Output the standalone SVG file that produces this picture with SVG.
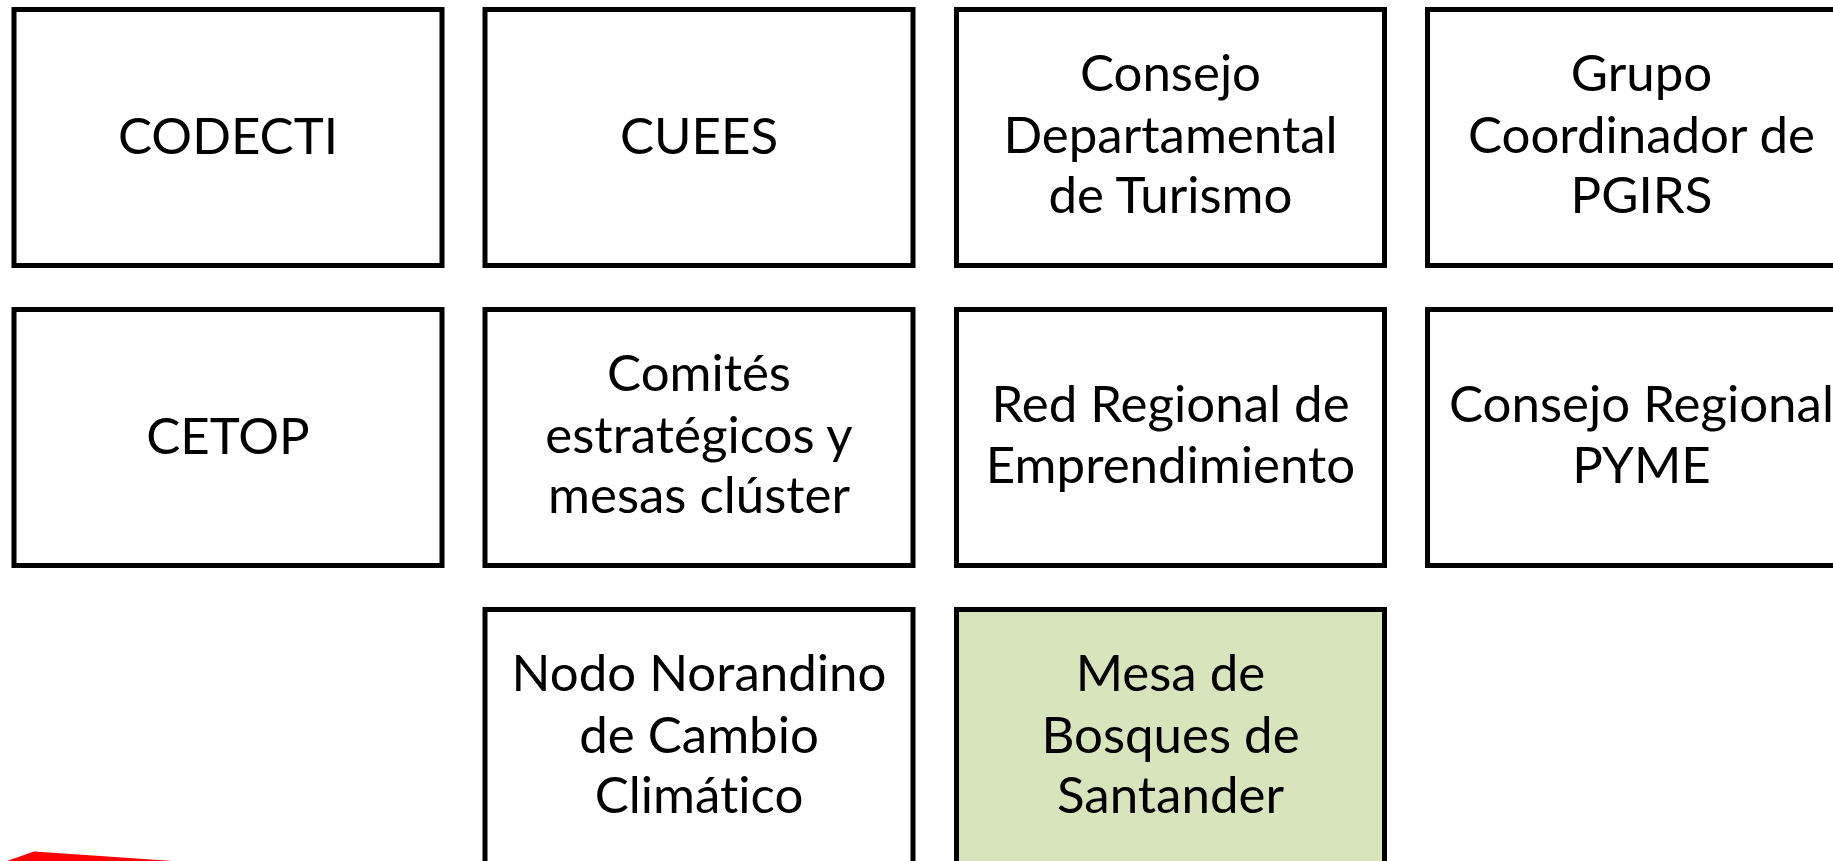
<svg xmlns="http://www.w3.org/2000/svg" width="1833" height="861" viewBox="0 0 1833 861">
<style>
.box{fill:#ffffff;stroke:#000000;stroke-width:5}
.hl{fill:#d8e4bc}
.t{font-family:Lato,"Liberation Sans",sans-serif;font-size:51px;fill:#000000;text-anchor:middle;font-variant-ligatures:none}
</style>
<rect width="1833" height="861" fill="#ffffff"/>
<g id="connectors">
<polygon points="7,861 34,851.5 100,856 173,861" fill="#ff0000"/>
</g>
<g id="codecti"><rect class="box" x="14" y="9.5" width="428" height="256"/><text class="t" x="228" y="154">CODECTI</text></g>
<g id="cuees"><rect class="box" x="485" y="9.5" width="428" height="256"/><text class="t" x="699" y="154">CUEES</text></g>
<g id="turismo"><rect class="box" x="956.5" y="9.5" width="428" height="256"/><text class="t" x="1170.5" y="91">Consejo</text><text class="t" x="1170.5" y="153">Departamental</text><text class="t" x="1170.5" y="213">de Turismo</text></g>
<g id="pgirs"><rect class="box" x="1427.5" y="9.5" width="428" height="256"/><text class="t" x="1641.5" y="91">Grupo</text><text class="t" x="1641.5" y="153">Coordinador de</text><text class="t" x="1641.5" y="213">PGIRS</text></g>
<g id="cetop"><rect class="box" x="14" y="309.5" width="428" height="256"/><text class="t" x="228" y="454">CETOP</text></g>
<g id="comites"><rect class="box" x="485" y="309.5" width="428" height="256"/><text class="t" x="699" y="391">Comités</text><text class="t" x="699" y="453">estratégicos y</text><text class="t" x="699" y="513">mesas clúster</text></g>
<g id="emprendimiento"><rect class="box" x="956.5" y="309.5" width="428" height="256"/><text class="t" x="1170.5" y="422">Red Regional de</text><text class="t" x="1170.5" y="483">Emprendimiento</text></g>
<g id="pyme"><rect class="box" x="1427.5" y="309.5" width="428" height="256"/><text class="t" x="1641.5" y="422">Consejo Regional</text><text class="t" x="1641.5" y="483">PYME</text></g>
<g id="nodo"><rect class="box" x="485" y="609.5" width="428" height="256"/><text class="t" x="699" y="691">Nodo Norandino</text><text class="t" x="699" y="753">de Cambio</text><text class="t" x="699" y="813">Climático</text></g>
<g id="mesa"><rect class="box hl" x="956.5" y="609.5" width="428" height="256"/><text class="t" x="1170.5" y="691">Mesa de</text><text class="t" x="1170.5" y="753">Bosques de</text><text class="t" x="1170.5" y="813">Santander</text></g>
</svg>
